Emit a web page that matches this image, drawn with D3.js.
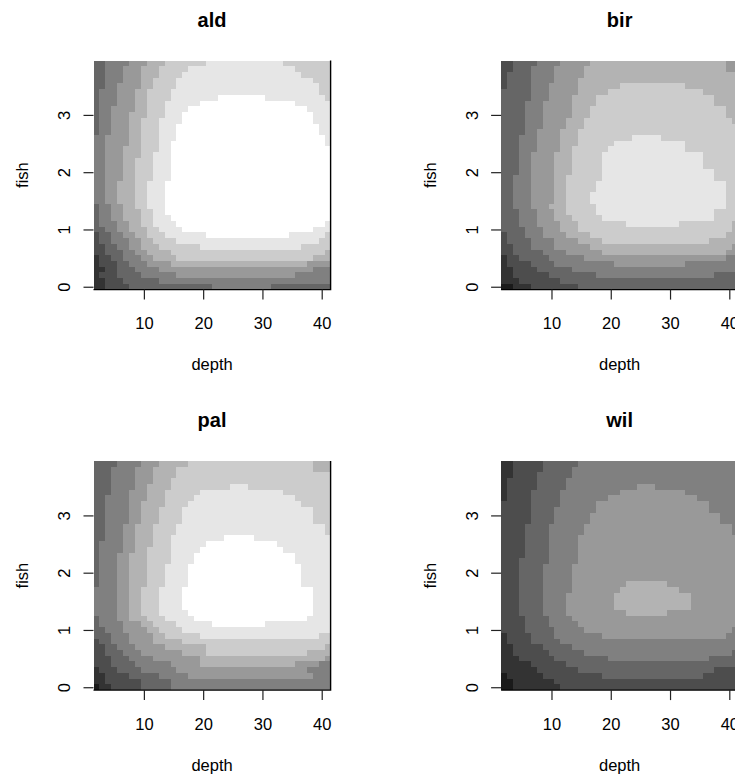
<!DOCTYPE html>
<html>
<head>
<meta charset="utf-8">
<script src="https://cdn.jsdelivr.net/npm/d3@7/dist/d3.min.js"></script>
<style>
  html, body { margin: 0; padding: 0; background: #fff; overflow: hidden; }
  text { font-family: "Liberation Sans", Arial, sans-serif; fill: #000; }
</style>
</head>
<body>
<svg id="chart" width="735" height="775"></svg>
<script>
// grid cells: depth columns and fish rows (rows listed top -> bottom)
var depths = [2, 3, 4, 5, 6, 7, 8, 9, 10, 11, 12, 13, 14, 15, 16, 17, 18, 19, 20, 21,
              22, 23, 24, 25, 26, 27, 28, 29, 30, 31, 32, 33, 34, 35, 36, 37, 38, 39, 40, 41];
var fishVals = [3.9, 3.8, 3.7, 3.6, 3.5, 3.4, 3.3, 3.2, 3.1, 3.0, 2.9, 2.8, 2.7, 2.6, 2.5, 2.4, 2.3, 2.2, 2.1, 2.0,
                1.9, 1.8, 1.7, 1.6, 1.5, 1.4, 1.3, 1.2, 1.1, 1.0, 0.9, 0.8, 0.7, 0.6, 0.5, 0.4, 0.3, 0.2, 0.1, 0.0];
var depthTicks = [10, 20, 30, 40];
var fishTicks = [0, 1, 2, 3];

// grey level per class (0 = darkest)
var greys = ["#000000", "#1a1a1a", "#333333", "#4d4d4d", "#666666", "#808080",
             "#999999", "#b3b3b3", "#cccccc", "#e6e6e6", "#ffffff"];

// each row: "level:count" runs from left (shallow) to right (deep)
var aldRows = [
  "4:2 5:4 6:3 7:3 8:7 9:13 8:8",
  "4:2 5:3 6:3 7:3 8:5 9:18 8:6",
  "4:2 5:3 6:3 7:3 8:4 9:20 8:5",
  "4:2 5:3 6:3 7:2 8:4 9:23 8:3",
  "4:2 5:2 6:4 7:2 8:4 9:24 8:2",
  "4:1 5:3 6:3 7:2 8:4 9:25 8:2",
  "4:1 5:3 6:3 7:2 8:4 9:8 10:8 9:10 8:1",
  "4:1 5:3 6:3 7:2 8:3 9:6 10:16 9:6",
  "4:1 5:2 6:4 7:2 8:3 9:4 10:20 9:4",
  "4:1 5:2 6:3 7:3 8:3 9:3 10:22 9:3",
  "4:1 5:2 6:3 7:2 8:3 9:4 10:22 9:3",
  "4:1 5:2 6:3 7:2 8:3 9:3 10:24 9:2",
  "4:1 5:2 6:3 7:2 8:3 9:3 10:24 9:2",
  "5:2 6:4 7:2 8:3 9:3 10:25 9:1",
  "5:2 6:4 7:2 8:3 9:2 10:26 9:1",
  "5:2 6:3 7:3 8:3 9:2 10:27",
  "5:2 6:3 7:3 8:2 9:3 10:27",
  "5:2 6:3 7:2 8:3 9:3 10:27",
  "5:2 6:3 7:2 8:3 9:3 10:27",
  "5:2 6:3 7:2 8:3 9:3 10:27",
  "5:2 6:3 7:2 8:3 9:3 10:27",
  "5:2 6:2 7:3 8:2 9:3 10:28",
  "5:2 6:2 7:3 8:2 9:3 10:28",
  "5:2 6:2 7:3 8:2 9:3 10:28",
  "5:2 6:2 7:3 8:2 9:3 10:28",
  "4:1 5:2 6:2 7:2 8:2 9:3 10:28",
  "4:1 5:2 6:2 7:3 8:2 9:2 10:28",
  "4:1 5:2 6:2 7:3 8:2 9:3 10:27",
  "4:1 5:3 6:2 7:2 8:2 9:4 10:25 9:1",
  "4:2 5:2 6:2 7:3 8:2 9:4 10:22 9:3",
  "3:1 4:2 5:2 6:2 7:2 8:3 9:7 10:14 9:6 8:1",
  "3:1 4:2 5:3 6:2 7:2 8:4 9:24 8:2",
  "3:2 4:2 5:2 6:2 7:3 8:7 9:17 8:5",
  "3:2 4:3 5:2 6:2 7:4 8:26 7:1",
  "2:1 3:2 4:2 5:3 6:2 7:4 8:23 7:3",
  "2:1 3:3 4:2 5:3 6:4 7:23 6:4",
  "2:2 3:2 4:3 5:4 6:26 5:3",
  "2:1 3:3 4:4 5:6 6:20 5:6",
  "2:2 3:3 4:6 5:29",
  "2:2 3:4 4:14 5:10 4:10"
];

var birRows = [
  "3:2 4:4 5:4 6:5 7:23 6:2",
  "3:2 4:3 5:4 6:5 7:24 6:2",
  "3:1 4:4 5:4 6:5 7:26",
  "3:1 4:4 5:4 6:4 7:27",
  "3:1 4:4 5:3 6:5 7:7 8:11 7:9",
  "4:5 5:3 6:5 7:5 8:16 7:6",
  "4:5 5:3 6:4 7:4 8:20 7:4",
  "4:4 5:3 6:5 7:4 8:20 7:4",
  "4:4 5:3 6:5 7:3 8:23 7:2",
  "4:4 5:3 6:5 7:3 8:23 7:2",
  "4:4 5:3 6:4 7:3 8:25 7:1",
  "4:4 5:3 6:4 7:3 8:26",
  "4:4 5:2 6:4 7:3 8:27",
  "4:3 5:3 6:4 7:3 8:9 9:5 8:13",
  "4:3 5:3 6:4 7:3 8:6 9:12 8:9",
  "4:3 5:3 6:4 7:2 8:6 9:13 8:9",
  "4:3 5:2 6:4 7:3 8:5 9:17 8:6",
  "4:3 5:2 6:4 7:3 8:5 9:17 8:6",
  "4:3 5:2 6:4 7:3 8:5 9:17 8:6",
  "4:3 5:2 6:4 7:3 8:5 9:19 8:4",
  "4:2 5:3 6:4 7:2 8:6 9:19 8:4",
  "4:2 5:3 6:4 7:2 8:5 9:22 8:2",
  "4:2 5:3 6:4 7:2 8:5 9:22 8:2",
  "4:2 5:3 6:4 7:2 8:4 9:23 8:2",
  "4:2 5:3 6:4 7:2 8:4 9:23 8:2",
  "4:2 5:3 6:3 7:3 8:5 9:22 8:2",
  "4:3 5:3 6:3 7:2 8:5 9:20 8:4",
  "4:3 5:3 6:3 7:3 8:5 9:19 8:4",
  "4:3 5:3 6:4 7:3 8:8 9:9 8:9 7:1",
  "4:4 5:3 6:3 7:3 8:26 7:1",
  "3:1 4:3 5:3 6:4 7:4 8:23 7:2",
  "3:1 4:4 5:4 6:4 7:4 8:18 7:5",
  "3:2 4:3 5:4 6:6 7:24 6:1",
  "3:2 4:5 5:4 6:6 7:21 6:2",
  "2:1 3:2 4:5 5:6 6:24 5:2",
  "2:1 3:4 4:4 5:10 6:12 5:9",
  "2:2 3:4 4:6 5:28",
  "2:2 3:6 4:8 5:20 4:4",
  "2:3 3:7 4:30",
  "1:2 2:3 3:8 4:27"
];

var palRows = [
  "4:4 5:4 6:3 7:5 8:21 7:3",
  "4:3 5:4 6:3 7:4 8:23 7:3",
  "4:3 5:4 6:3 7:4 8:26",
  "4:3 5:4 6:3 7:3 8:27",
  "4:3 5:4 6:2 7:4 8:10 9:3 8:14",
  "4:3 5:3 6:3 7:3 8:6 9:14 8:8",
  "4:2 5:4 6:3 7:3 8:5 9:17 8:6",
  "4:2 5:4 6:2 7:4 8:4 9:19 8:5",
  "4:2 5:4 6:2 7:3 8:4 9:22 8:3",
  "4:2 5:4 6:2 7:3 8:4 9:22 8:3",
  "4:2 5:4 6:2 7:3 8:4 9:22 8:3",
  "4:2 5:3 6:2 7:3 8:4 9:25 8:1",
  "4:2 5:3 6:2 7:3 8:4 9:25 8:1",
  "4:2 5:3 6:2 7:3 8:3 9:9 10:5 9:13",
  "4:1 5:4 6:2 7:3 8:3 9:6 10:12 9:9",
  "4:1 5:4 6:2 7:2 8:4 9:5 10:14 9:8",
  "4:1 5:3 6:2 7:3 8:4 9:4 10:17 9:6",
  "4:1 5:3 6:2 7:3 8:4 9:4 10:17 9:6",
  "4:1 5:3 6:2 7:3 8:3 9:4 10:19 9:5",
  "4:1 5:3 6:2 7:3 8:3 9:4 10:19 9:5",
  "4:1 5:3 6:2 7:3 8:3 9:4 10:19 9:5",
  "4:1 5:3 6:2 7:3 8:3 9:4 10:19 9:5",
  "5:4 6:2 7:2 8:3 9:4 10:22 9:3",
  "5:4 6:2 7:2 8:3 9:4 10:22 9:3",
  "5:4 6:2 7:2 8:3 9:4 10:22 9:3",
  "5:4 6:2 7:2 8:3 9:4 10:22 9:3",
  "5:4 6:2 7:2 8:3 9:5 10:21 9:3",
  "4:1 5:3 6:2 7:3 8:3 9:5 10:19 9:4",
  "4:1 5:4 6:3 7:2 8:4 9:6 10:9 9:11",
  "4:2 5:3 6:4 7:2 8:4 9:25",
  "4:3 5:3 6:4 7:2 8:6 9:20 8:2",
  "3:1 4:2 5:3 6:4 7:5 8:25",
  "3:2 4:2 5:3 6:5 7:7 8:20 7:1",
  "3:2 4:3 5:3 6:7 7:4 8:17 7:4",
  "3:3 4:3 5:4 6:8 7:21 6:1",
  "3:3 4:4 5:6 6:5 7:16 6:4 5:2",
  "2:1 3:3 4:4 5:6 6:22 5:4",
  "2:2 3:4 4:5 5:5 6:21 5:3",
  "2:2 3:6 4:5 5:27",
  "1:1 2:2 3:5 4:5 5:27"
];

var wilRows = [
  "2:2 3:5 4:6 5:27",
  "2:2 3:5 4:5 5:28",
  "2:2 3:4 4:6 5:28",
  "2:1 3:5 4:5 5:29",
  "2:1 3:5 4:5 5:12 6:3 5:14",
  "2:1 3:4 4:5 5:10 6:11 5:9",
  "2:1 3:4 4:5 5:8 6:15 5:7",
  "3:5 4:5 5:6 6:19 5:5",
  "3:5 4:4 5:7 6:19 5:5",
  "3:5 4:4 5:6 6:22 5:3",
  "3:5 4:4 5:6 6:22 5:3",
  "3:4 4:4 5:6 6:25 5:1",
  "3:4 4:4 5:6 6:25 5:1",
  "3:4 4:4 5:5 6:27",
  "3:4 4:4 5:5 6:27",
  "3:4 4:4 5:5 6:27",
  "3:4 4:4 5:5 6:27",
  "3:3 4:5 5:5 6:27",
  "3:3 4:4 5:5 6:28",
  "3:3 4:4 5:5 6:28",
  "3:3 4:4 5:5 6:28",
  "3:3 4:4 5:5 6:9 7:7 6:12",
  "3:3 4:4 5:5 6:8 7:10 6:10",
  "3:3 4:4 5:4 6:8 7:13 6:8",
  "3:3 4:4 5:4 6:8 7:13 6:8",
  "3:3 4:4 5:4 6:8 7:13 6:8",
  "3:3 4:4 5:4 6:10 7:7 6:12",
  "3:4 4:4 5:4 6:28",
  "3:4 4:4 5:5 6:27",
  "3:4 4:5 5:5 6:25 5:1",
  "2:1 3:4 4:4 5:8 6:21 5:2",
  "2:1 3:4 4:5 5:30",
  "2:2 3:5 4:5 5:28",
  "2:2 3:6 4:6 5:25 4:1",
  "2:3 3:6 4:9 5:17 4:5",
  "2:5 3:6 4:29",
  "2:6 3:7 4:23 3:4",
  "1:1 2:6 3:10 4:17 3:6",
  "1:2 2:7 3:31",
  "1:2 2:8 3:30"
];

var panels = [
  { name: "ald", rows: aldRows, ox: 93.5,  oy: 60.5 },
  { name: "bir", rows: birRows, ox: 501.1, oy: 60.5 },
  { name: "pal", rows: palRows, ox: 93.5,  oy: 461 },
  { name: "wil", rows: wilRows, ox: 501.1, oy: 461 }
];

var plotW = 237.1, plotH = 229.1;

var x = d3.scaleLinear().domain([1.5, 41.5]).range([0, plotW]);
var y = d3.scaleLinear().domain([-0.05, 3.95]).range([plotH, 0]);

function decodeRow(s) {
  var out = [];
  s.split(" ").forEach(function (run) {
    var p = run.split(":");
    for (var i = 0; i < +p[1]; i++) out.push(+p[0]);
  });
  return out;
}

var svg = d3.select("#chart");

panels.forEach(function (p) {
  var g = svg.append("g").attr("transform", "translate(" + p.ox + "," + p.oy + ")");

  var cells = [];
  p.rows.forEach(function (s, ri) {
    decodeRow(s).slice(0, depths.length).forEach(function (lev, ci) {
      cells.push({ depth: depths[ci], fish: fishVals[ri], lev: lev });
    });
  });

  g.append("g")
    .attr("shape-rendering", "crispEdges")
    .selectAll("rect")
    .data(cells)
    .enter()
    .append("rect")
    .attr("x", function (d) { return x(d.depth - 0.5); })
    .attr("y", function (d) { return y(d.fish + 0.05); })
    .attr("width", function (d) { return x(d.depth + 0.5) - x(d.depth - 0.5); })
    .attr("height", function (d) { return y(d.fish - 0.05) - y(d.fish + 0.05); })
    .attr("fill", function (d) { return greys[d.lev]; });

  // right + bottom frame
  g.append("path")
    .attr("d", "M0," + plotH + "H" + plotW + "V0")
    .attr("fill", "none")
    .attr("stroke", "#000")
    .attr("stroke-width", 1.4);

  var xa = g.append("g")
    .attr("transform", "translate(0," + plotH + ")")
    .call(d3.axisBottom(x).tickValues(depthTicks).tickSize(10).tickFormat(d3.format("d")));
  xa.select(".domain").remove();
  xa.selectAll("line").attr("stroke", "#222").attr("stroke-width", 1.2);
  xa.selectAll("text")
    .attr("y", 39.5).attr("dy", null)
    .style("font-size", "16.5px").attr("fill", "#000");

  var ya = g.append("g")
    .call(d3.axisLeft(y).tickValues(fishTicks).tickSize(10).tickFormat(d3.format("d")));
  ya.select(".domain").remove();
  ya.selectAll("line").attr("stroke", "#222").attr("stroke-width", 1.2);
  ya.selectAll("text")
    .attr("x", null).attr("dy", null)
    .attr("text-anchor", "middle")
    .attr("transform", "translate(-23.5,0) rotate(-90)")
    .style("font-size", "16.5px").attr("fill", "#000");

  g.append("text")
    .attr("x", plotW / 2).attr("y", -34)
    .attr("text-anchor", "middle")
    .style("font-size", "20px").style("font-weight", "bold")
    .text(p.name);

  g.append("text")
    .attr("x", plotW / 2).attr("y", 309.5)
    .attr("text-anchor", "middle")
    .style("font-size", "16.5px")
    .text("depth");

  g.append("text")
    .attr("transform", "translate(-65.5," + (plotH / 2) + ") rotate(-90)")
    .attr("text-anchor", "middle")
    .style("font-size", "16.5px")
    .text("fish");
});
</script>
</body>
</html>
